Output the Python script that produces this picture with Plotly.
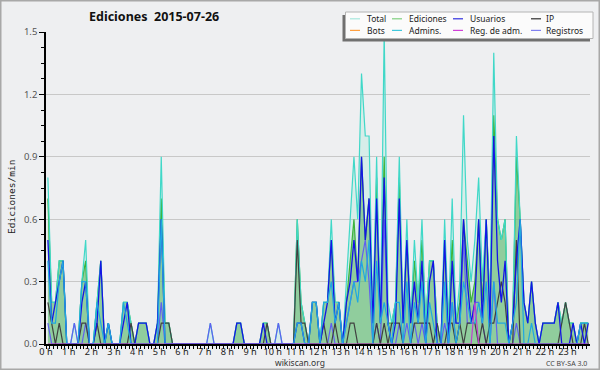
import plotly.graph_objects as go

# ---------------- data (edits per minute, 10-minute bins, 144 per day) ----------------
total = [
    .8, .2, .2, .4, .4, 0,   0, .1, 0, .3, .5, 0,   0, .2, .4, 0, .1, 0,   0, 0, .2, .2, .1, 0,
    .1, .1, .1, 0, 0, .1,   .9, .1, .1, 0, 0, 0,   0, 0, 0, 0, 0, 0,     0, .1, 0, 0, 0, 0,
    0, 0, .1, .1, 0, 0,     0, 0, 0, .1, .1, 0,    0, .1, 0, 0, 0, 0,    .6, .2, .1, 0, .2, .2,
    0, .2, .2, .6, .2, .2,  0, .3, .6, .9, .6, 1.3, 1.0, 1.0, .1, .9, .1, 1.5, .2, .1, .2, .9, .1, .6,
    .1, .5, .2, .6, .1, .4, .4, .1, 0, .6, .1, .7,  .1, .3, 1.1, .5, .3, .5, .8, .3, .6, .2, 1.4, .6,
    .5, .6, 0, .1, 1.0, .6, .2, .1, .3, .1, 0, .1,  .1, .1, .1, .2, .1, .2, .1, .1, 0, .1, .1, .1,
]
ediciones = [
    .7, .2, .2, .4, .4, 0,   0, 0, 0, .3, .4, 0,    0, .2, .4, 0, .1, 0,   0, 0, .2, .2, .1, 0,
    .1, .1, .1, 0, 0, .1,   .7, .1, .1, 0, 0, 0,   0, 0, 0, 0, 0, 0,     0, 0, 0, 0, 0, 0,
    0, 0, .1, .1, 0, 0,     0, 0, 0, .1, .1, 0,    0, 0, 0, 0, 0, 0,     .6, .2, .1, 0, .2, .2,
    0, .2, .2, .5, .2, .2,  0, .2, .4, .6, .3, .9,  .5, .7, .1, .8, .1, .9,  .1, .1, .2, .8, .1, .5,
    .1, .4, .2, .5, .1, .4, .4, .1, 0, .5, .1, .5,  .1, .2, .6, .4, .2, .3, .6, .2, .6, .2, 1.1, .6,
    .5, .6, 0, .1, .9, .6,  .2, .1, .3, .1, 0, .1,  .1, .1, .1, .2, .1, .2, .1, .1, 0, .1, .1, .1,
]
usuarios = [
    .5, .1, .2, .3, .4, 0,   0, 0, 0, .2, .3, 0,    0, .1, .4, 0, .1, 0,   0, 0, .1, .2, 0, 0,
    .1, .1, .1, 0, 0, .1,   .6, 0, 0, 0, 0, 0,     0, 0, 0, 0, 0, 0,     0, 0, 0, 0, 0, 0,
    0, 0, .1, .1, 0, 0,     0, 0, 0, .1, 0, 0,     0, 0, 0, 0, 0, 0,     .1, .1, 0, 0, .2, .2,
    0, .1, .2, .5, .1, .2,  0, .2, .3, .5, .3, .9,  .5, .7, .1, .7, .1, .8,  .1, 0, .1, .7, .1, .5,
    .1, .3, .1, .4, 0, .3,  .4, 0, 0, .5, 0, .4,    .1, .1, .6, .3, .1, .2, .6, .1, .6, .1, 1.0, .4,
    .2, .4, 0, .1, .4, .6,  .2, .1, .3, .1, 0, .1,  .1, .1, .1, .2, 0, 0,   0, .1, 0, .1, 0, .1,
]
ip = [
    .2, .1, 0, .1, 0, 0,    0, 0, 0, .1, .1, 0,    0, .1, 0, 0, 0, 0,    0, 0, 0, 0, .1, 0,
    0, 0, 0, 0, 0, 0,       .1, .1, .1, 0, 0, 0,   0, 0, 0, 0, 0, 0,     0, 0, 0, 0, 0, 0,
    0, 0, 0, 0, 0, 0,       0, 0, 0, 0, .1, 0,     0, 0, 0, 0, 0, 0,     .5, .1, .1, 0, 0, 0,
    0, .1, 0, 0, .1, 0,     0, 0, .1, .1, 0, 0,    0, 0, 0, .1, 0, .1,   0, .1, .1, .1, 0, 0,
    0, .1, .1, .1, .1, .1,  0, .1, 0, 0, .1, .1,   0, .1, 0, .1, .1, .1, 0, .1, 0, .1, .1, .2,
    .3, .2, 0, 0, .5, 0,    0, 0, 0, 0, 0, 0,      0, 0, 0, 0, .1, .2,   .1, 0, 0, 0, .1, 0,
]
bots = [0] * 144
admins = [
    .4, .1, .1, .3, .4, 0,   0, 0, 0, .3, .3, 0,    0, .2, .1, 0, .1, 0,   0, 0, .2, .1, 0, 0,
    0, 0, 0, 0, 0, 0,       .6, 0, 0, 0, 0, 0,     0, 0, 0, 0, 0, 0,     0, 0, 0, 0, 0, 0,
    0, 0, 0, 0, 0, 0,       0, 0, 0, 0, 0, 0,      0, 0, 0, 0, 0, 0,     .1, .1, 0, 0, .2, .2,
    0, .2, .2, .3, .1, .2,  0, .1, .2, .3, .2, .4,  .3, .5, 0, .4, .1, .2,  .1, 0, .2, .2, 0, .3,
    0, .2, .1, .3, 0, .2,   .1, 0, 0, .3, 0, .2,   0, .1, .3, .2, .1, .1, .2, .1, .3, 0, .3, .1,
    .1, .1, 0, .1, .2, .6,  0, 0, .1, 0, 0, 0,     0, 0, 0, 0, 0, 0,     0, 0, 0, .1, .1, .1,
]
reg_adm = [0] * 113 + [.2] + [0] * 30
registros = [
    .1, 0, 0, 0, 0, 0,      0, .1, 0, 0, .1, 0,    0, 0, 0, 0, 0, 0,     0, 0, 0, 0, 0, 0,
    0, 0, 0, 0, 0, 0,       .2, 0, 0, 0, 0, 0,     0, 0, 0, 0, 0, 0,     0, .1, 0, 0, 0, 0,
    0, 0, 0, 0, 0, 0,       0, 0, 0, 0, 0, 0,      0, .1, 0, 0, 0, 0,    0, 0, 0, 0, 0, 0,
    0, 0, 0, .1, 0, 0,      0, .1, .2, .3, .3, .4,  .5, .3, 0, .1, 0, .6,  .1, 0, 0, .1, 0, .1,
    0, .1, 0, .1, 0, 0,     0, 0, 0, .1, 0, .2,    0, .1, .5, .1, .1, .2, .2, .1, 0, 0, .3, 0,
    0, 0, 0, 0, .1, 0,      0, 0, 0, 0, 0, 0,      0, 0, 0, 0, 0, 0,     0, 0, 0, 0, 0, 0,
]
hours = [(i + 0.5) / 6 for i in range(144)]   # bin centres, in hours
hour_ticks = list(range(24))
hour_labels = [f"{h} h" for h in hour_ticks]

legend_items = [
    ("Total", "#a8e8de"), ("Ediciones", "#80d080"), ("Usuarios", "#3030e0"), ("IP", "#303030"),
    ("Bots", "#ffa040"), ("Admins.", "#40c8dc"), ("Reg. de adm.", "#d040d8"), ("Registros", "#8080f0"),
]

# ---------------- layout geometry (pixels) ----------------
L, R, T, B = 46, 590, 32, 344
W, H = R - L, B - T
def fx(p): return (p - L) / W
def fy(p): return (B - p) / H

fig = go.Figure()
fig.add_trace(go.Scatter(x=hours, y=bots, mode="lines", line=dict(color="#ffa040", width=1.2)))
fig.add_trace(go.Scatter(x=hours, y=total, mode="lines", fill="tozeroy",
                         fillcolor="rgba(110,225,200,0.18)", line=dict(width=0, color="rgba(0,0,0,0)")))
fig.add_trace(go.Scatter(x=hours, y=ediciones, mode="lines", fill="tozeroy",
                         fillcolor="rgba(100,185,110,0.62)", line=dict(color="#3cb43c", width=1.2)))
fig.add_trace(go.Scatter(x=hours, y=total, mode="lines", line=dict(color="#40d8c8", width=1.2)))
fig.add_trace(go.Scatter(x=hours, y=registros, mode="lines", line=dict(color="#6060f0", width=1.2)))
fig.add_trace(go.Scatter(x=hours, y=ip, mode="lines", line=dict(color="#404040", width=1.2)))
fig.add_trace(go.Scatter(x=hours, y=usuarios, mode="lines", line=dict(color="#1414e6", width=1.3)))
fig.add_trace(go.Scatter(x=hours, y=admins, mode="lines", line=dict(color="#20a8e0", width=1.2)))
fig.add_trace(go.Scatter(x=hours, y=reg_adm, mode="lines", line=dict(color="#c040d0", width=1.2)))

shapes = []
annotations = []
# outer frame
shapes.append(dict(type="rect", xref="paper", yref="paper", x0=fx(0.75), x1=fx(599.25), y0=fy(369.25), y1=fy(0.75),
                   line=dict(color="#a8a8a8", width=1.5), fillcolor="rgba(0,0,0,0)", layer="above"))
# legend box with shadow
shapes.append(dict(type="rect", xref="paper", yref="paper", x0=fx(342.5), x1=fx(590), y0=fy(41.5), y1=fy(15),
                   line=dict(width=0), fillcolor="#707070", layer="above"))
shapes.append(dict(type="rect", xref="paper", yref="paper", x0=fx(345.5), x1=fx(593), y0=fy(38.5), y1=fy(12),
                   line=dict(color="#b4b4b4", width=1), fillcolor="#fbfbfb", layer="above"))
sw_x = [350, 392, 453, 531]
tx_x = [366, 408, 469, 545]
rows = [18.8, 30.4]
for k, (name, col) in enumerate(legend_items):
    c, r = k % 4, k // 4
    shapes.append(dict(type="line", xref="paper", yref="paper", x0=fx(sw_x[c]), x1=fx(sw_x[c] + 10),
                       y0=fy(rows[r]), y1=fy(rows[r]), line=dict(color=col, width=1.2), layer="above"))
    annotations.append(dict(text=name, xref="paper", yref="paper", x=fx(tx_x[c] - 1), y=fy(rows[r]),
                            xanchor="left", yanchor="middle", showarrow=False,
                            font=dict(family="Noto Sans", size=8.5, color="#222222")))
# title and credits
annotations.append(dict(text="<b>Ediciones\u00a0 2015-07-26</b>", xref="paper", yref="paper", x=fx(154), y=fy(16.5),
                        xanchor="center", yanchor="middle", showarrow=False,
                        font=dict(family="Noto Sans", size=12.5, color="#111111")))
annotations.append(dict(text="wikiscan.org", xref="paper", yref="paper", x=fx(300), y=fy(362.5),
                        xanchor="center", yanchor="middle", showarrow=False,
                        font=dict(family="Noto Sans", size=8.5, color="#333333")))
annotations.append(dict(text="CC BY-SA 3.0", xref="paper", yref="paper", x=fx(589), y=fy(363),
                        xanchor="right", yanchor="middle", showarrow=False,
                        font=dict(family="Noto Sans", size=7, color="#444444")))
annotations.append(dict(text="Ediciones/min", xref="paper", yref="paper", x=fx(11), y=fy(197),
                        xanchor="center", yanchor="middle", showarrow=False, textangle=-90,
                        font=dict(family="DejaVu Sans Mono", size=9.5, color="#222222")))

fig.update_layout(
    width=600, height=370,
    margin=dict(l=L, r=600 - R, t=T, b=370 - B, pad=0),
    paper_bgcolor="#eeeff1", plot_bgcolor="#eeeff1",
    showlegend=False,
    shapes=shapes, annotations=annotations,
    xaxis=dict(range=[0, 23.995], tickmode="array", tickvals=hour_ticks, ticktext=hour_labels,
               automargin=False, ticklabelstandoff=-5,
               showgrid=False, zeroline=False, showline=True, linecolor="black", linewidth=2,
               ticks="outside", ticklen=3, tickcolor="black", tickwidth=1,
               minor=dict(dtick=1 / 6, tick0=0, ticks="outside", ticklen=3, tickcolor="black", showgrid=False),
               tickfont=dict(family="Noto Sans", size=9.2, color="#222222")),
    yaxis=dict(range=[0, 1.5], tickmode="linear", tick0=0, dtick=0.3, tickformat=".1f",
               automargin=False,
               showgrid=True, gridcolor="#c8c8c8", gridwidth=1, zeroline=False,
               showline=True, linecolor="black", linewidth=1.5,
               ticks="outside", ticklen=5, tickcolor="black", tickwidth=1,
               minor=dict(dtick=0.075, tick0=0, ticks="outside", ticklen=3, tickcolor="black", showgrid=False),
               tickfont=dict(family="Noto Sans", size=9.5, color="#555555")),
)
fig.write_html("out.html")
